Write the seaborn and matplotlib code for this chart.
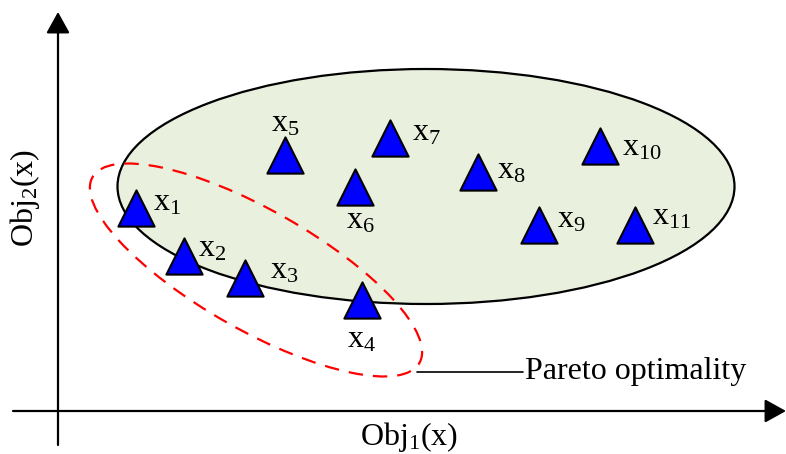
import numpy as np
import pandas as pd
import seaborn as sns
import matplotlib.pyplot as plt
from matplotlib.patches import Ellipse

# solution points (pixel-like units, y grows downward)
names = ["1", "2", "3", "4", "5", "6", "7", "8", "9", "10", "11"]
obj1 = [136, 184, 245, 362, 285, 355, 390, 478, 539, 600, 635]
obj2 = [208, 256, 278, 300, 155, 187, 138, 172, 225, 146, 225]

# label offsets from each triangle (dx, dy) and alignment
lab_dx = [17, 14, 25, 0, 0, 5, 22, 19, 18, 22, 17]
lab_dy = [-5, -7, -7, 40, -31, 34, -5, -1, -5, 2, -8]
lab_ha = ["left", "left", "left", "center", "center", "center",
          "left", "left", "left", "left", "left"]

df = pd.DataFrame({"obj1": obj1, "obj2": obj2, "name": names})

sns.set_style("white")
plt.rcParams["font.family"] = ["Liberation Serif", "DejaVu Serif"]
plt.rcParams["mathtext.fontset"] = "custom"
plt.rcParams["mathtext.rm"] = "Liberation Serif"
plt.rcParams["text.color"] = "black"

fig = plt.figure(figsize=(7.86, 4.54), dpi=100)
ax = fig.add_axes([0, 0, 1, 1])
ax.set_xlim(0, 786)
ax.set_ylim(454, 0)
ax.axis("off")

# feasible region
ax.add_patch(Ellipse((426, 186.5), 617, 235, facecolor="#E9F0DE",
                     edgecolor="black", lw=1.6, zorder=1))
# pareto front
ax.add_patch(Ellipse((256, 270), 376, 120, angle=29.6, fill=False,
                     edgecolor="#FF0000", lw=1.6, linestyle=(0, (6.5, 4.5)),
                     zorder=2))

sns.scatterplot(data=df, x="obj1", y="obj2", marker="^", s=680,
                color="#0000FF", edgecolor="black", linewidth=1.5,
                ax=ax, zorder=3, legend=False)

for i, n in enumerate(names):
    ax.text(obj1[i] + lab_dx[i], obj2[i] + lab_dy[i],
            r"$\mathregular{x_{%s}}$" % n, fontsize=23,
            ha=lab_ha[i], va="center", zorder=4)

# axes with arrow heads
arrow = dict(arrowstyle="-|>,head_length=1.3,head_width=0.72",
             mutation_scale=10, lw=1.6, color="black",
             shrinkA=0, shrinkB=0)
ax.annotate("", xy=(786, 411), xytext=(13, 411), arrowprops=arrow)
ax.annotate("", xy=(58, 12), xytext=(58, 445), arrowprops=arrow)

ax.text(409, 437, r"$\mathregular{Obj_1(x)}$", fontsize=23,
        ha="center", va="center")
ax.text(25, 198, r"$\mathregular{Obj_2(x)}$", fontsize=23,
        ha="center", va="center", rotation=90)

# pareto optimality callout
ax.plot([417, 523], [372, 372], color="black", lw=1.2)
ax.text(525, 372, "Pareto optimality", fontsize=23, ha="left", va="center")

fig.savefig("out.png", dpi=100)
